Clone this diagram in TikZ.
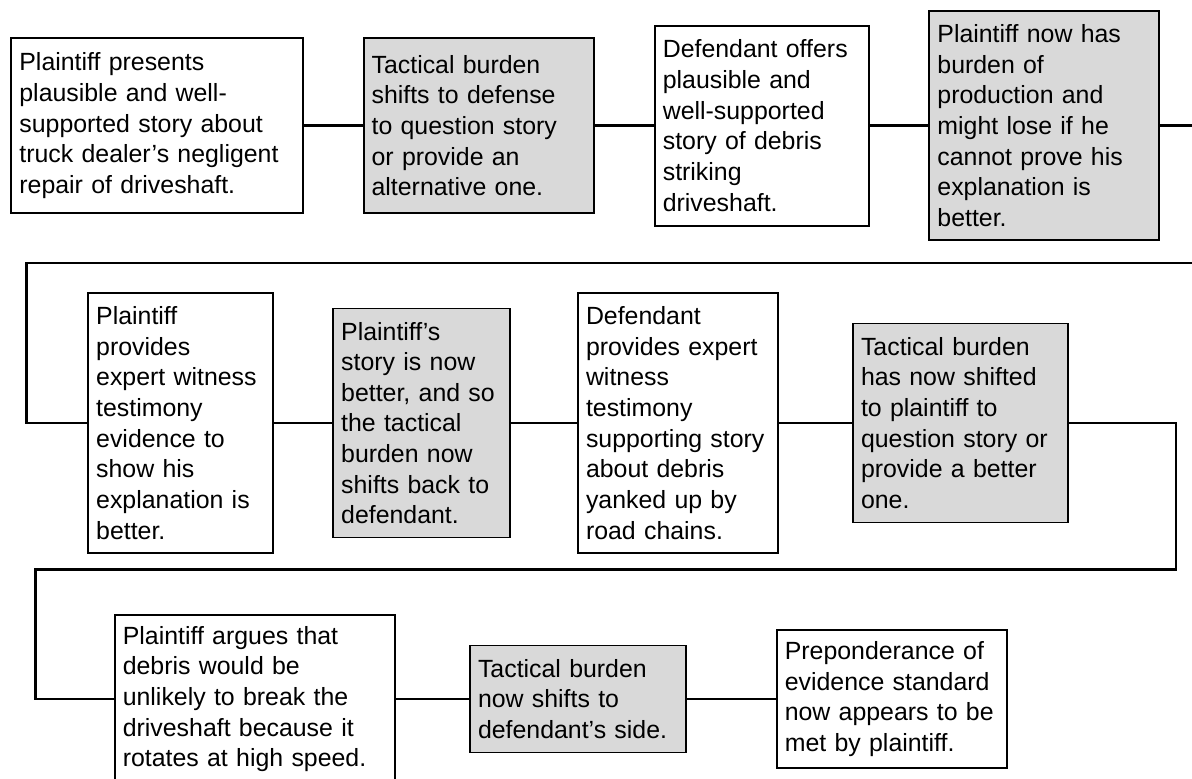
\documentclass[tikz,border=0pt]{standalone}
\usepackage{fontspec}
\setmainfont{Liberation Sans}
\definecolor{boxgrey}{RGB}{217,217,217}

\begin{document}
\begin{tikzpicture}[thick]
\tikzset{
  claim/.style={draw,line width=1.4pt,fill=white,align=left,inner xsep=0.2cm,inner ysep=0pt,
    font=\fontsize{17.7pt}{21.78pt}\selectfont},
  burden/.style={claim,fill=boxgrey},
  link/.style={line width=2.1pt}
}
\useasboundingbox (0,0) rectangle (29.8,19.45);

% first row
\node[claim,text width=6.89cm,minimum height=4.375cm] (p1) at (3.93,16.31) {Plaintiff presents\\plausible and well-\\supported story about\\truck dealer’s negligent\\repair of driveshaft.};
\node[burden,text width=5.36cm,minimum height=4.375cm] (t1) at (11.97,16.31) {Tactical burden\\shifts to defense\\to question story\\or provide an\\alternative one.};
\node[claim,text width=4.96cm,minimum height=5.0cm] (d1) at (19.05,16.31) {Defendant offers\\plausible and\\well-supported\\story of debris\\striking\\driveshaft.};
\node[burden,text width=5.35cm,minimum height=5.725cm] (p2) at (26.11,16.31) {Plaintiff now has\\burden of\\production and\\might lose if he\\cannot prove his\\explanation is\\better.};

% second row
\node[claim,text width=4.21cm,minimum height=6.5cm] (p3) at (4.51,8.875) {Plaintiff\\provides\\expert witness\\testimony\\evidence to\\show his\\explanation is\\better.};
\node[burden,text width=4.02cm,minimum height=5.725cm] (t2) at (10.54,8.875) {Plaintiff’s\\story is now\\better, and so\\the tactical\\burden now\\shifts back to\\defendant.};
\node[claim,text width=4.6cm,minimum height=6.5cm] (d2) at (16.95,8.875) {Defendant\\provides expert\\witness\\testimony\\supporting story\\about debris\\yanked up by\\road chains.};
\node[burden,text width=4.97cm,minimum height=4.975cm] (t3) at (24.01,8.875) {Tactical burden\\has now shifted\\to plaintiff to\\question story or\\provide a better\\one.};

% third row
\node[claim,text width=6.6cm,minimum height=4.2cm] (p4) at (6.37,1.975) {Plaintiff argues that\\debris would be\\unlikely to break the\\driveshaft because it\\rotates at high speed.};
\node[burden,text width=5.0cm,minimum height=2.675cm] (t4) at (14.45,1.975) {Tactical burden\\now shifts to\\defendant’s side.};
\node[claim,text width=5.36cm,minimum height=3.45cm] (f) at (22.30,1.975) {Preponderance of\\evidence standard\\now appears to be\\met by plaintiff.};

% turning points of the connectors
\coordinate (r1) at (30.2,16.31);
\coordinate (r2) at (30.2,12.875);
\coordinate (l1) at (0.67,12.875);
\coordinate (r3) at (29.4,5.21);
\coordinate (l2) at (0.89,5.21);

\draw[link] (p1) -- (t1);
\draw[link] (t1) -- (d1);
\draw[link] (d1) -- (p2);
\draw[link] (p2) -- (r1) -- (r2) -- (l1) |- (p3);
\draw[link] (p3) -- (t2);
\draw[link] (t2) -- (d2);
\draw[link] (d2) -- (t3);
\draw[link] (t3) -| (r3) -- (l2) |- (p4);
\draw[link] (p4) -- (t4);
\draw[link] (t4) -- (f);
\end{tikzpicture}
\end{document}
